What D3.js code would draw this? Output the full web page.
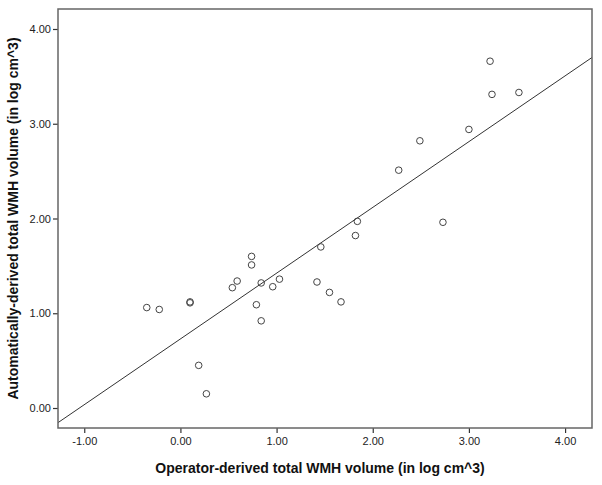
<!DOCTYPE html>
<html>
<head>
<meta charset="utf-8">
<script src="https://cdn.jsdelivr.net/npm/d3@7"></script>
<style>
    body { margin: 0; background: #fff; }
    .tick text { font-family: "Liberation Sans", Arial, sans-serif; font-size: 11px; fill: #222; }
    .axis-title { font-family: "Liberation Sans", Arial, sans-serif; font-size: 14px; font-weight: bold; fill: #111; }
</style>
</head>
<body>
<div id="chart"></div>
<script>
    // operator-derived (x) vs automatically-derived (y) log volumes
    const operatorVol = [-0.35, -0.22, 0.10, 0.10, 0.19, 0.27, 0.54, 0.59, 0.74, 0.74, 0.84, 0.79, 0.84,
        0.96, 1.03, 1.42, 1.55, 1.67, 1.46, 1.82, 1.84, 2.73, 2.27, 2.49, 3.00, 3.22, 3.24, 3.52];
    const autoVol = [1.06, 1.04, 1.12, 1.11, 0.45, 0.15, 1.27, 1.34, 1.60, 1.51, 1.32, 1.09, 0.92,
        1.28, 1.36, 1.33, 1.22, 1.12, 1.70, 1.82, 1.97, 1.96, 2.51, 2.82, 2.94, 3.66, 3.31, 3.33];
    const xTicks = [-1, 0, 1, 2, 3, 4];
    const yTicks = [0, 1, 2, 3, 4];
    const fitIntercept = 0.729;
    const fitSlope = 0.694;

    const W = 602, H = 485;
    const margin = { top: 9, right: 10, bottom: 57, left: 58 };
    const width = W - margin.left - margin.right;
    const height = H - margin.top - margin.bottom;

    // SPSS style: plain hyphen for negatives
    const fmt = d => d3.format(".2f")(d).replace("\u2212", "-");

    const svg = d3.select("#chart").append("svg")
        .attr("width", W).attr("height", H);

    const g = svg.append("g").attr("transform", `translate(${margin.left},${margin.top})`);

    const x = d3.scaleLinear().domain([-1.273, 4.28]).range([0, width]);
    const y = d3.scaleLinear().domain([-0.211, 4.211]).range([height, 0]);

    const xAxis = g.append("g").attr("transform", `translate(0,${height})`)
        .call(d3.axisBottom(x).tickValues(xTicks).tickFormat(fmt).tickSize(5).tickPadding(4));
    const yAxis = g.append("g")
        .call(d3.axisLeft(y).tickValues(yTicks).tickFormat(fmt).tickSize(5).tickPadding(2));
    [xAxis, yAxis].forEach(a => {
        a.select(".domain").remove();
        a.selectAll(".tick line").attr("stroke", "#333").attr("stroke-width", 1.2);
    });

    g.append("defs").append("clipPath").attr("id", "clip")
        .append("rect").attr("width", width).attr("height", height);

    // fit line
    const xd = x.domain();
    g.append("line")
        .attr("clip-path", "url(#clip)")
        .attr("x1", x(xd[0])).attr("y1", y(fitIntercept + fitSlope * xd[0]))
        .attr("x2", x(xd[1])).attr("y2", y(fitIntercept + fitSlope * xd[1]))
        .attr("stroke", "#333").attr("stroke-width", 1);

    g.selectAll(".pt").data(operatorVol.map((v, i) => [v, autoVol[i]]))
        .enter().append("circle")
        .attr("class", "pt")
        .attr("cx", d => x(d[0])).attr("cy", d => y(d[1]))
        .attr("r", 3.3)
        .attr("fill", "none").attr("stroke", "#444").attr("stroke-width", 1);

    // frame
    g.append("rect").attr("width", width).attr("height", height)
        .attr("fill", "none").attr("stroke", "#666").attr("stroke-width", 1.5);

    svg.append("text").attr("class", "axis-title")
        .attr("x", margin.left + width / 2 - 5).attr("y", 473)
        .attr("text-anchor", "middle")
        .text("Operator-derived total WMH volume (in log cm^3)");

    svg.append("text").attr("class", "axis-title")
        .attr("transform", `translate(18,${margin.top + height / 2}) rotate(-90)`)
        .attr("text-anchor", "middle")
        .text("Automatically-derived total WMH volume (in log cm^3)");
</script>
</body>
</html>
